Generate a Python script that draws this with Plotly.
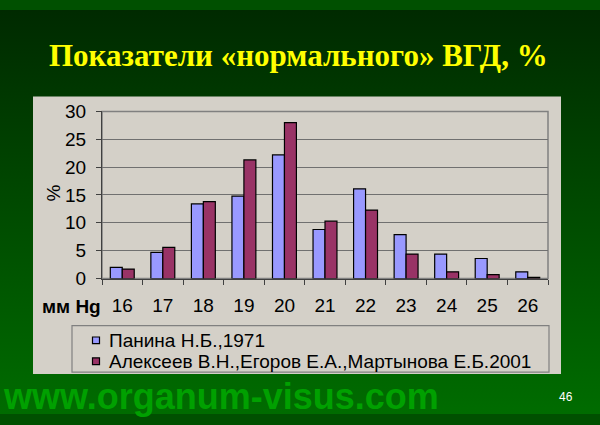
import base64
import plotly.graph_objects as go

# ---- data ----
categories = ["16", "17", "18", "19", "20", "21", "22", "23", "24", "25", "26"]
panina_1971 = [2.0, 4.7, 13.4, 14.8, 22.2, 8.8, 16.1, 7.9, 4.4, 3.6, 1.2]
alekseev_2001 = [1.7, 5.6, 13.8, 21.3, 28.0, 10.3, 12.3, 4.4, 1.2, 0.7, 0.2]
series_names = ["Панина Н.Б.,1971", "Алексеев В.Н.,Егоров Е.А.,Мартынова Е.Б.2001"]
title_text = "Показатели «нормального» ВГД, %"
y_ticks = [0, 5, 10, 15, 20, 25, 30]

W, H = 600, 425
def px(x):
    return x / W
def py(y):
    return 1 - y / H

BLUE = "#9999ff"
MAROON = "#993366"
SANS = "Liberation Sans, Arial, sans-serif"

fig = go.Figure()
fig.add_trace(go.Bar(x=categories, y=panina_1971, name=series_names[0],
                     marker=dict(color=BLUE, line=dict(color="black", width=1.2)),
                     showlegend=False))
fig.add_trace(go.Bar(x=categories, y=alekseev_2001, name=series_names[1],
                     marker=dict(color=MAROON, line=dict(color="black", width=1.2)),
                     showlegend=False))

# smooth green gradient background as an SVG image
svg = ('<svg xmlns="http://www.w3.org/2000/svg" width="600" height="425" preserveAspectRatio="none">'
       '<defs><linearGradient id="g" x1="0" y1="0" x2="0" y2="1">'
       '<stop offset="0" stop-color="rgb(0,42,0)"/>'
       '<stop offset="1" stop-color="rgb(0,108,0)"/>'
       '</linearGradient></defs>'
       '<rect width="600" height="425" fill="url(#g)"/></svg>')
bg_src = "data:image/svg+xml;base64," + base64.b64encode(svg.encode()).decode()

shapes = []
# chart box
shapes.append(dict(type="rect", xref="paper", yref="paper",
                   x0=px(33), x1=px(561), y0=py(383), y1=py(91),
                   fillcolor="#d4d0c8", line=dict(width=0), layer="below"))
# plot frame (gray)
shapes.append(dict(type="rect", xref="paper", yref="paper",
                   x0=px(102), x1=px(548), y0=py(282.5), y1=py(106.7),
                   fillcolor="rgba(0,0,0,0)", line=dict(color="#808080", width=1.5), layer="below"))
# legend box
shapes.append(dict(type="rect", xref="paper", yref="paper",
                   x0=px(72), x1=px(549), y0=py(381), y1=py(332),
                   fillcolor="rgba(0,0,0,0)", line=dict(color="#808080", width=1.2)))

annotations = [
    dict(text=f"<b>{title_text}</b>", x=px(298), y=py(48), xref="paper", yref="paper",
         showarrow=False, xanchor="center", yanchor="middle",
         font=dict(family="Liberation Serif, Times New Roman, serif", size=31, color="#ffff00")),
    dict(text="%", x=px(53), y=py(193), xref="paper", yref="paper", textangle=-90,
         showarrow=False, xanchor="center", yanchor="middle",
         font=dict(family=SANS, size=19, color="black")),
    dict(text="<b>мм Hg</b>", x=px(103), y=py(312), xref="paper", yref="paper",
         showarrow=False, xanchor="right", yanchor="middle",
         font=dict(family=SANS, size=19, color="black")),
    dict(text="<b>www.organum-visus.com</b>", x=px(1), y=py(407), xref="paper", yref="paper",
         showarrow=False, xanchor="left", yanchor="middle",
         font=dict(family=SANS, size=36, color="#00a000")),
    dict(text="46", x=px(566), y=py(407), xref="paper", yref="paper",
         showarrow=False, xanchor="center", yanchor="middle",
         font=dict(family=SANS, size=12, color="white")),
]

# legend (drawn as key squares + text)
legend_rows = [347.5, 369.5]
for nm, col, ry in zip(series_names, [BLUE, MAROON], legend_rows):
    shapes.append(dict(type="rect", xref="paper", yref="paper",
                       x0=px(92.5), x1=px(99.5), y0=py(ry + 3.5), y1=py(ry - 3.5),
                       fillcolor=col, line=dict(color="black", width=1.2)))
    annotations.append(dict(text=nm, x=px(107), y=py(ry), xref="paper", yref="paper",
                            showarrow=False, xanchor="left", yanchor="middle",
                            font=dict(family=SANS, size=19, color="black")))

fig.update_layout(
    width=W, height=H,
    margin=dict(l=0, r=0, t=0, b=0),
    paper_bgcolor="#005000",
    plot_bgcolor="#c0c0c0",
    barmode="group", bargap=0.41, bargroupgap=0,
    shapes=shapes, annotations=annotations,
    images=[dict(source=bg_src, xref="paper", yref="paper", x=0, y=1,
                 sizex=1, sizey=1, sizing="stretch", xanchor="left", yanchor="top",
                 layer="below")],
    font=dict(family=SANS, size=19, color="black"),
    showlegend=False,
    xaxis=dict(domain=[px(102), px(548)], type="category",
               showline=True, linecolor="#404040", linewidth=1.2,
               ticks="outside", tickson="boundaries", ticklen=5, tickcolor="#404040",
               showgrid=False, ticklabelstandoff=10,
               tickfont=dict(size=19, color="black")),
    yaxis=dict(domain=[py(282.5), py(106.7)], range=[0, 30], tickvals=y_ticks,
               showline=True, linecolor="#404040", linewidth=1.2,
               ticks="outside", ticklen=5, tickcolor="#404040",
               showgrid=True, gridcolor="#707070", gridwidth=1.2, zeroline=False,
               ticklabelstandoff=6,
               tickfont=dict(size=19, color="black")),
)

fig.write_html("out.html")
